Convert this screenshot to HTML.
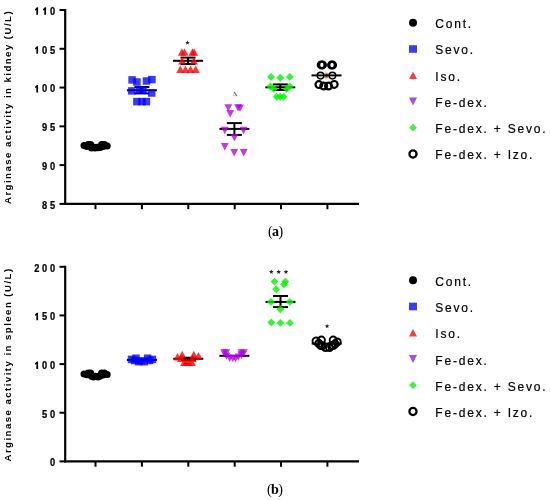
<!DOCTYPE html>
<html><head><meta charset="utf-8"><style>
html,body{margin:0;padding:0;background:#fff;width:550px;height:500px;overflow:hidden}
svg{display:block;will-change:transform}
.tk{font-family:"Liberation Sans",sans-serif;font-weight:bold;font-size:10.3px;fill:#000;stroke:#000;stroke-width:0.25px}
.yl{font-family:"Liberation Sans",sans-serif;font-weight:bold;font-size:9.6px;letter-spacing:1.47px;fill:#000}
.lg{font-family:"Liberation Sans",sans-serif;font-size:12px;letter-spacing:1.8px;fill:#000;stroke:#000;stroke-width:0.2px}
.cap{font-family:"Liberation Serif",serif;font-size:14px;letter-spacing:-0.6px;fill:#000}
</style></head><body>
<svg width="550" height="500" viewBox="0 0 550 500">
<rect width="550" height="500" fill="#fff"/>
<line x1="65.2" y1="9.0" x2="65.2" y2="204.9" stroke="#000" stroke-width="2.2"/>
<line x1="64.2" y1="203.9" x2="359" y2="203.9" stroke="#000" stroke-width="2.2"/>
<line x1="59.5" y1="10.0" x2="65.2" y2="10.0" stroke="#000" stroke-width="2"/>
<text class="tk" transform="translate(52.60,14.85) scale(0.9,1)" text-anchor="middle">0</text>
<polygon points="46.05,14.85 46.05,7.35 44.85,7.35 42.95,9.15 42.95,10.65 44.30,9.65 44.30,14.85" fill="#000"/>
<polygon points="38.10,14.85 38.10,7.35 36.90,7.35 35.00,9.15 35.00,10.65 36.35,9.65 36.35,14.85" fill="#000"/>
<line x1="59.5" y1="48.78" x2="65.2" y2="48.78" stroke="#000" stroke-width="2"/>
<text class="tk" transform="translate(52.60,53.63) scale(0.9,1)" text-anchor="middle">5</text>
<text class="tk" transform="translate(44.65,53.63) scale(0.9,1)" text-anchor="middle">0</text>
<polygon points="38.10,53.63 38.10,46.13 36.90,46.13 35.00,47.93 35.00,49.43 36.35,48.43 36.35,53.63" fill="#000"/>
<line x1="59.5" y1="87.56" x2="65.2" y2="87.56" stroke="#000" stroke-width="2"/>
<text class="tk" transform="translate(52.60,92.41) scale(0.9,1)" text-anchor="middle">0</text>
<text class="tk" transform="translate(44.65,92.41) scale(0.9,1)" text-anchor="middle">0</text>
<polygon points="38.10,92.41 38.10,84.91 36.90,84.91 35.00,86.71 35.00,88.21 36.35,87.21 36.35,92.41" fill="#000"/>
<line x1="59.5" y1="126.34" x2="65.2" y2="126.34" stroke="#000" stroke-width="2"/>
<text class="tk" transform="translate(52.60,131.19) scale(0.9,1)" text-anchor="middle">5</text>
<text class="tk" transform="translate(44.65,131.19) scale(0.9,1)" text-anchor="middle">9</text>
<line x1="59.5" y1="165.12" x2="65.2" y2="165.12" stroke="#000" stroke-width="2"/>
<text class="tk" transform="translate(52.60,169.97) scale(0.9,1)" text-anchor="middle">0</text>
<text class="tk" transform="translate(44.65,169.97) scale(0.9,1)" text-anchor="middle">9</text>
<line x1="59.5" y1="203.9" x2="65.2" y2="203.9" stroke="#000" stroke-width="2"/>
<text class="tk" transform="translate(52.60,208.75) scale(0.9,1)" text-anchor="middle">5</text>
<text class="tk" transform="translate(44.65,208.75) scale(0.9,1)" text-anchor="middle">8</text>
<line x1="95.5" y1="203.9" x2="95.5" y2="209.20000000000002" stroke="#000" stroke-width="2"/>
<line x1="141.9" y1="203.9" x2="141.9" y2="209.20000000000002" stroke="#000" stroke-width="2"/>
<line x1="188.3" y1="203.9" x2="188.3" y2="209.20000000000002" stroke="#000" stroke-width="2"/>
<line x1="234.7" y1="203.9" x2="234.7" y2="209.20000000000002" stroke="#000" stroke-width="2"/>
<line x1="281.0" y1="203.9" x2="281.0" y2="209.20000000000002" stroke="#000" stroke-width="2"/>
<line x1="327.4" y1="203.9" x2="327.4" y2="209.20000000000002" stroke="#000" stroke-width="2"/>
<text class="yl" transform="translate(11.4,204.0) rotate(-90)" x="0" y="0">Arginase activity in kidney (U/L)</text>
<circle cx="84.0" cy="145.6" r="3.5" fill="#000"/>
<circle cx="86.8" cy="146.4" r="3.5" fill="#000"/>
<circle cx="88.2" cy="144.6" r="3.5" fill="#000"/>
<circle cx="90.6" cy="144.6" r="3.5" fill="#000"/>
<circle cx="91.5" cy="147.9" r="3.5" fill="#000"/>
<circle cx="94.5" cy="147.2" r="3.5" fill="#000"/>
<circle cx="95.2" cy="147.9" r="3.5" fill="#000"/>
<circle cx="97.2" cy="147.2" r="3.5" fill="#000"/>
<circle cx="98.4" cy="147.8" r="3.5" fill="#000"/>
<circle cx="100.2" cy="147.5" r="3.5" fill="#000"/>
<circle cx="101.6" cy="144.6" r="3.5" fill="#000"/>
<circle cx="104.4" cy="144.6" r="3.5" fill="#000"/>
<circle cx="103.2" cy="146.6" r="3.5" fill="#000"/>
<circle cx="107.2" cy="146.0" r="3.5" fill="#000"/>
<line x1="126.9" y1="90.3" x2="156.9" y2="90.3" stroke="#000" stroke-width="2"/>
<line x1="141.9" y1="87.1" x2="141.9" y2="93.4" stroke="#000" stroke-width="2"/>
<line x1="134.4" y1="87.1" x2="149.4" y2="87.1" stroke="#000" stroke-width="2"/>
<line x1="134.4" y1="93.4" x2="149.4" y2="93.4" stroke="#000" stroke-width="2"/>
<rect x="128.35" y="76.15" width="7.5" height="7.5" fill="rgba(0,0,255,0.78)"/>
<rect x="133.15" y="78.25" width="7.5" height="7.5" fill="rgba(0,0,255,0.78)"/>
<rect x="142.75" y="77.25" width="7.5" height="7.5" fill="rgba(0,0,255,0.78)"/>
<rect x="148.15" y="75.85" width="7.5" height="7.5" fill="rgba(0,0,255,0.78)"/>
<rect x="128.05" y="87.15" width="7.5" height="7.5" fill="rgba(0,0,255,0.78)"/>
<rect x="135.95" y="86.45" width="7.5" height="7.5" fill="rgba(0,0,255,0.78)"/>
<rect x="139.25" y="86.45" width="7.5" height="7.5" fill="rgba(0,0,255,0.78)"/>
<rect x="147.95" y="89.25" width="7.5" height="7.5" fill="rgba(0,0,255,0.78)"/>
<rect x="133.15" y="97.85" width="7.5" height="7.5" fill="rgba(0,0,255,0.78)"/>
<rect x="138.25" y="97.85" width="7.5" height="7.5" fill="rgba(0,0,255,0.78)"/>
<rect x="142.65" y="97.85" width="7.5" height="7.5" fill="rgba(0,0,255,0.78)"/>
<line x1="173.0" y1="60.8" x2="203.0" y2="60.8" stroke="#000" stroke-width="2"/>
<line x1="188.0" y1="57.6" x2="188.0" y2="64.0" stroke="#000" stroke-width="2"/>
<line x1="180.5" y1="57.6" x2="195.5" y2="57.6" stroke="#000" stroke-width="2"/>
<line x1="180.5" y1="64.0" x2="195.5" y2="64.0" stroke="#000" stroke-width="2"/>
<polygon points="181.90,48.30 185.90,55.70 177.90,55.70" fill="rgba(255,0,0,0.8)"/>
<polygon points="184.50,48.30 188.50,55.70 180.50,55.70" fill="rgba(255,0,0,0.8)"/>
<polygon points="192.50,48.30 196.50,55.70 188.50,55.70" fill="rgba(255,0,0,0.8)"/>
<polygon points="194.10,48.30 198.10,55.70 190.10,55.70" fill="rgba(255,0,0,0.8)"/>
<polygon points="182.20,57.10 186.20,64.50 178.20,64.50" fill="rgba(255,0,0,0.8)"/>
<polygon points="193.80,57.10 197.80,64.50 189.80,64.50" fill="rgba(255,0,0,0.8)"/>
<polygon points="180.30,65.60 184.30,73.00 176.30,73.00" fill="rgba(255,0,0,0.8)"/>
<polygon points="185.40,65.60 189.40,73.00 181.40,73.00" fill="rgba(255,0,0,0.8)"/>
<polygon points="190.60,65.60 194.60,73.00 186.60,73.00" fill="rgba(255,0,0,0.8)"/>
<polygon points="195.70,65.60 199.70,73.00 191.70,73.00" fill="rgba(255,0,0,0.8)"/>
<polygon points="187.50,40.50 188.11,41.96 189.69,42.09 188.48,43.12 188.85,44.66 187.50,43.83 186.15,44.66 186.52,43.12 185.31,42.09 186.89,41.96" fill="#222"/>
<line x1="219.4" y1="128.9" x2="249.4" y2="128.9" stroke="#000" stroke-width="2"/>
<line x1="234.4" y1="123.1" x2="234.4" y2="134.9" stroke="#000" stroke-width="2"/>
<line x1="226.9" y1="123.1" x2="241.9" y2="123.1" stroke="#000" stroke-width="2"/>
<line x1="226.9" y1="134.9" x2="241.9" y2="134.9" stroke="#000" stroke-width="2"/>
<polygon points="224.40,104.20 232.20,104.20 228.30,111.60" fill="rgba(178,0,230,0.78)"/>
<polygon points="226.30,110.10 234.10,110.10 230.20,117.50" fill="rgba(178,0,230,0.78)"/>
<polygon points="234.10,104.20 241.90,104.20 238.00,111.60" fill="rgba(178,0,230,0.78)"/>
<polygon points="236.10,104.50 243.90,104.50 240.00,111.90" fill="rgba(178,0,230,0.78)"/>
<polygon points="220.90,126.80 228.70,126.80 224.80,134.20" fill="rgba(178,0,230,0.78)"/>
<polygon points="239.70,126.80 247.50,126.80 243.60,134.20" fill="rgba(178,0,230,0.78)"/>
<polygon points="230.50,134.00 238.30,134.00 234.40,141.40" fill="rgba(178,0,230,0.78)"/>
<polygon points="220.90,143.00 228.70,143.00 224.80,150.40" fill="rgba(178,0,230,0.78)"/>
<polygon points="230.30,149.10 238.10,149.10 234.20,156.50" fill="rgba(178,0,230,0.78)"/>
<polygon points="239.80,149.10 247.60,149.10 243.70,156.50" fill="rgba(178,0,230,0.78)"/>
<path d="M233.0,95.6 L234.3,92.2 L236.8,95.6 Z" fill="none" stroke="#a0a0a0" stroke-width="0.5"/>
<path d="M234.3,92.2 L236.8,95.7" stroke="#707070" stroke-width="1.1" stroke-linecap="round"/>
<line x1="265.3" y1="87.3" x2="295.3" y2="87.3" stroke="#000" stroke-width="2"/>
<line x1="280.3" y1="84.4" x2="280.3" y2="90.0" stroke="#000" stroke-width="2"/>
<line x1="272.8" y1="84.4" x2="287.8" y2="84.4" stroke="#000" stroke-width="2"/>
<line x1="272.8" y1="90.0" x2="287.8" y2="90.0" stroke="#000" stroke-width="2"/>
<polygon points="271.00,72.95 274.95,76.90 271.00,80.85 267.05,76.90" fill="rgba(0,245,0,0.82)"/>
<polygon points="280.30,73.75 284.25,77.70 280.30,81.65 276.35,77.70" fill="rgba(0,245,0,0.82)"/>
<polygon points="289.80,72.95 293.75,76.90 289.80,80.85 285.85,76.90" fill="rgba(0,245,0,0.82)"/>
<polygon points="270.50,82.45 274.45,86.40 270.50,90.35 266.55,86.40" fill="rgba(0,245,0,0.82)"/>
<polygon points="273.80,84.75 277.75,88.70 273.80,92.65 269.85,88.70" fill="rgba(0,245,0,0.82)"/>
<polygon points="289.80,82.45 293.75,86.40 289.80,90.35 285.85,86.40" fill="rgba(0,245,0,0.82)"/>
<polygon points="286.90,85.05 290.85,89.00 286.90,92.95 282.95,89.00" fill="rgba(0,245,0,0.82)"/>
<polygon points="276.70,92.85 280.65,96.80 276.70,100.75 272.75,96.80" fill="rgba(0,245,0,0.82)"/>
<polygon points="280.30,92.85 284.25,96.80 280.30,100.75 276.35,96.80" fill="rgba(0,245,0,0.82)"/>
<polygon points="283.60,92.85 287.55,96.80 283.60,100.75 279.65,96.80" fill="rgba(0,245,0,0.82)"/>
<rect x="324.6" y="71.5" width="3.8" height="8" fill="#fbdcae"/>
<line x1="311.5" y1="75.4" x2="341.5" y2="75.4" stroke="#000" stroke-width="2"/>
<line x1="326.5" y1="73.0" x2="326.5" y2="78.0" stroke="#000" stroke-width="2"/>
<line x1="319" y1="73.7" x2="334" y2="73.7" stroke="#c9c3b8" stroke-width="0.9"/>
<line x1="319" y1="77.2" x2="334" y2="77.2" stroke="#c9c3b8" stroke-width="0.9"/>
<circle cx="321.2" cy="64.9" r="3.4" fill="none" stroke="#000" stroke-width="2.2"/>
<circle cx="322.5" cy="64.9" r="3.4" fill="none" stroke="#000" stroke-width="2.2"/>
<circle cx="331.5" cy="65.1" r="3.4" fill="none" stroke="#000" stroke-width="2.2"/>
<circle cx="332.6" cy="65.1" r="3.4" fill="none" stroke="#000" stroke-width="2.2"/>
<circle cx="318.9" cy="84.6" r="3.4" fill="none" stroke="#000" stroke-width="2.2"/>
<circle cx="323.7" cy="86.0" r="3.4" fill="none" stroke="#000" stroke-width="2.2"/>
<circle cx="328.5" cy="86.0" r="3.4" fill="none" stroke="#000" stroke-width="2.2"/>
<circle cx="334.2" cy="84.4" r="3.4" fill="none" stroke="#000" stroke-width="2.2"/>
<circle cx="320.55" cy="75.6" r="3.3" fill="none" stroke="#000" stroke-width="1.5"/>
<circle cx="332.4" cy="75.6" r="3.3" fill="none" stroke="#000" stroke-width="1.5"/>
<text class="cap" x="275.2" y="235.7" text-anchor="middle">(<tspan font-weight="bold">a</tspan>)</text>
<line x1="65.2" y1="265.8" x2="65.2" y2="462.4" stroke="#000" stroke-width="2.2"/>
<line x1="64.2" y1="461.4" x2="359" y2="461.4" stroke="#000" stroke-width="2.2"/>
<line x1="59.5" y1="266.8" x2="65.2" y2="266.8" stroke="#000" stroke-width="2"/>
<text class="tk" transform="translate(52.60,271.65) scale(0.9,1)" text-anchor="middle">0</text>
<text class="tk" transform="translate(44.65,271.65) scale(0.9,1)" text-anchor="middle">0</text>
<text class="tk" transform="translate(36.70,271.65) scale(0.9,1)" text-anchor="middle">2</text>
<line x1="59.5" y1="315.45" x2="65.2" y2="315.45" stroke="#000" stroke-width="2"/>
<text class="tk" transform="translate(52.60,320.30) scale(0.9,1)" text-anchor="middle">0</text>
<text class="tk" transform="translate(44.65,320.30) scale(0.9,1)" text-anchor="middle">5</text>
<polygon points="38.10,320.30 38.10,312.80 36.90,312.80 35.00,314.60 35.00,316.10 36.35,315.10 36.35,320.30" fill="#000"/>
<line x1="59.5" y1="364.1" x2="65.2" y2="364.1" stroke="#000" stroke-width="2"/>
<text class="tk" transform="translate(52.60,368.95) scale(0.9,1)" text-anchor="middle">0</text>
<text class="tk" transform="translate(44.65,368.95) scale(0.9,1)" text-anchor="middle">0</text>
<polygon points="38.10,368.95 38.10,361.45 36.90,361.45 35.00,363.25 35.00,364.75 36.35,363.75 36.35,368.95" fill="#000"/>
<line x1="59.5" y1="412.75" x2="65.2" y2="412.75" stroke="#000" stroke-width="2"/>
<text class="tk" transform="translate(52.60,417.60) scale(0.9,1)" text-anchor="middle">0</text>
<text class="tk" transform="translate(44.65,417.60) scale(0.9,1)" text-anchor="middle">5</text>
<line x1="59.5" y1="461.4" x2="65.2" y2="461.4" stroke="#000" stroke-width="2"/>
<text class="tk" transform="translate(52.60,466.25) scale(0.9,1)" text-anchor="middle">0</text>
<line x1="95.5" y1="461.4" x2="95.5" y2="466.7" stroke="#000" stroke-width="2"/>
<line x1="141.9" y1="461.4" x2="141.9" y2="466.7" stroke="#000" stroke-width="2"/>
<line x1="188.3" y1="461.4" x2="188.3" y2="466.7" stroke="#000" stroke-width="2"/>
<line x1="234.7" y1="461.4" x2="234.7" y2="466.7" stroke="#000" stroke-width="2"/>
<line x1="281.0" y1="461.4" x2="281.0" y2="466.7" stroke="#000" stroke-width="2"/>
<line x1="327.4" y1="461.4" x2="327.4" y2="466.7" stroke="#000" stroke-width="2"/>
<text class="yl" transform="translate(11.4,461.5) rotate(-90)" x="0" y="0">Arginase activity in spleen (U/L)</text>
<circle cx="84.0" cy="374.0" r="3.5" fill="#000"/>
<circle cx="86.8" cy="374.8" r="3.5" fill="#000"/>
<circle cx="88.2" cy="373.0" r="3.5" fill="#000"/>
<circle cx="90.6" cy="373.0" r="3.5" fill="#000"/>
<circle cx="91.5" cy="376.3" r="3.5" fill="#000"/>
<circle cx="95.2" cy="376.3" r="3.5" fill="#000"/>
<circle cx="98.4" cy="376.20000000000005" r="3.5" fill="#000"/>
<circle cx="100.2" cy="375.9" r="3.5" fill="#000"/>
<circle cx="101.6" cy="373.0" r="3.5" fill="#000"/>
<circle cx="104.4" cy="373.0" r="3.5" fill="#000"/>
<circle cx="103.2" cy="375.0" r="3.5" fill="#000"/>
<circle cx="107.2" cy="374.4" r="3.5" fill="#000"/>
<circle cx="95.8" cy="376.4" r="3.5" fill="#000"/>
<circle cx="93.6" cy="376.9" r="3.5" fill="#000"/>
<circle cx="98.0" cy="376.9" r="3.5" fill="#000"/>
<line x1="126.9" y1="359.9" x2="156.9" y2="359.9" stroke="#000" stroke-width="2"/>
<rect x="127.75" y="355.65" width="7.5" height="7.5" fill="rgba(0,0,255,0.78)"/>
<rect x="132.25" y="354.45" width="7.5" height="7.5" fill="rgba(0,0,255,0.78)"/>
<rect x="143.85" y="354.45" width="7.5" height="7.5" fill="rgba(0,0,255,0.78)"/>
<rect x="148.65" y="355.65" width="7.5" height="7.5" fill="rgba(0,0,255,0.78)"/>
<rect x="137.65" y="357.05" width="7.5" height="7.5" fill="rgba(0,0,255,0.78)"/>
<rect x="134.75" y="357.95" width="7.5" height="7.5" fill="rgba(0,0,255,0.78)"/>
<rect x="140.55" y="357.95" width="7.5" height="7.5" fill="rgba(0,0,255,0.78)"/>
<rect x="130.75" y="356.75" width="7.5" height="7.5" fill="rgba(0,0,255,0.78)"/>
<rect x="145.75" y="356.75" width="7.5" height="7.5" fill="rgba(0,0,255,0.78)"/>
<line x1="173.3" y1="358.8" x2="203.3" y2="358.8" stroke="#000" stroke-width="2"/>
<line x1="188.3" y1="357.7" x2="188.3" y2="360.0" stroke="#000" stroke-width="2"/>
<line x1="180.8" y1="357.7" x2="195.8" y2="357.7" stroke="#000" stroke-width="2"/>
<line x1="180.8" y1="360.0" x2="195.8" y2="360.0" stroke="#000" stroke-width="2"/>
<polygon points="177.50,353.10 181.50,360.50 173.50,360.50" fill="rgba(255,0,0,0.8)"/>
<polygon points="182.20,350.80 186.20,358.20 178.20,358.20" fill="rgba(255,0,0,0.8)"/>
<polygon points="193.80,350.80 197.80,358.20 189.80,358.20" fill="rgba(255,0,0,0.8)"/>
<polygon points="198.50,352.00 202.50,359.40 194.50,359.40" fill="rgba(255,0,0,0.8)"/>
<polygon points="181.00,354.60 185.00,362.00 177.00,362.00" fill="rgba(255,0,0,0.8)"/>
<polygon points="192.50,354.60 196.50,362.00 188.50,362.00" fill="rgba(255,0,0,0.8)"/>
<polygon points="184.10,358.60 188.10,366.00 180.10,366.00" fill="rgba(255,0,0,0.8)"/>
<polygon points="186.40,358.40 190.40,365.80 182.40,365.80" fill="rgba(255,0,0,0.8)"/>
<polygon points="188.40,358.60 192.40,366.00 184.40,366.00" fill="rgba(255,0,0,0.8)"/>
<polygon points="191.90,358.60 195.90,366.00 187.90,366.00" fill="rgba(255,0,0,0.8)"/>
<line x1="219.4" y1="355.8" x2="249.4" y2="355.8" stroke="#000" stroke-width="2"/>
<polygon points="220.20,349.30 228.00,349.30 224.10,356.70" fill="rgba(178,0,230,0.78)"/>
<polygon points="222.40,349.30 230.20,349.30 226.30,356.70" fill="rgba(178,0,230,0.78)"/>
<polygon points="237.50,349.30 245.30,349.30 241.40,356.70" fill="rgba(178,0,230,0.78)"/>
<polygon points="240.00,349.30 247.80,349.30 243.90,356.70" fill="rgba(178,0,230,0.78)"/>
<polygon points="222.70,352.40 230.50,352.40 226.60,359.80" fill="rgba(178,0,230,0.78)"/>
<polygon points="225.80,354.60 233.60,354.60 229.70,362.00" fill="rgba(178,0,230,0.78)"/>
<polygon points="228.90,354.90 236.70,354.90 232.80,362.30" fill="rgba(178,0,230,0.78)"/>
<polygon points="231.60,354.90 239.40,354.90 235.50,362.30" fill="rgba(178,0,230,0.78)"/>
<polygon points="234.40,353.40 242.20,353.40 238.30,360.80" fill="rgba(178,0,230,0.78)"/>
<polygon points="237.50,351.50 245.30,351.50 241.40,358.90" fill="rgba(178,0,230,0.78)"/>
<line x1="265.5" y1="301.9" x2="295.5" y2="301.9" stroke="#000" stroke-width="2"/>
<line x1="280.5" y1="296.0" x2="280.5" y2="307.1" stroke="#000" stroke-width="2"/>
<line x1="273.0" y1="296.0" x2="288.0" y2="296.0" stroke="#000" stroke-width="2"/>
<line x1="273.0" y1="307.1" x2="288.0" y2="307.1" stroke="#000" stroke-width="2"/>
<polygon points="274.50,277.65 278.45,281.60 274.50,285.55 270.55,281.60" fill="rgba(0,245,0,0.82)"/>
<polygon points="285.30,277.65 289.25,281.60 285.30,285.55 281.35,281.60" fill="rgba(0,245,0,0.82)"/>
<polygon points="283.90,280.45 287.85,284.40 283.90,288.35 279.95,284.40" fill="rgba(0,245,0,0.82)"/>
<polygon points="276.20,285.35 280.15,289.30 276.20,293.25 272.25,289.30" fill="rgba(0,245,0,0.82)"/>
<polygon points="270.90,297.95 274.85,301.90 270.90,305.85 266.95,301.90" fill="rgba(0,245,0,0.82)"/>
<polygon points="289.90,297.95 293.85,301.90 289.90,305.85 285.95,301.90" fill="rgba(0,245,0,0.82)"/>
<polygon points="280.40,305.35 284.35,309.30 280.40,313.25 276.45,309.30" fill="rgba(0,245,0,0.82)"/>
<polygon points="271.30,318.45 275.25,322.40 271.30,326.35 267.35,322.40" fill="rgba(0,245,0,0.82)"/>
<polygon points="280.40,318.95 284.35,322.90 280.40,326.85 276.45,322.90" fill="rgba(0,245,0,0.82)"/>
<polygon points="289.90,318.95 293.85,322.90 289.90,326.85 285.95,322.90" fill="rgba(0,245,0,0.82)"/>
<polygon points="271.30,269.40 271.93,270.93 273.58,271.06 272.33,272.13 272.71,273.74 271.30,272.88 269.89,273.74 270.27,272.13 269.02,271.06 270.67,270.93" fill="#222"/>
<polygon points="278.70,269.40 279.33,270.93 280.98,271.06 279.73,272.13 280.11,273.74 278.70,272.88 277.29,273.74 277.67,272.13 276.42,271.06 278.07,270.93" fill="#222"/>
<polygon points="286.00,269.40 286.63,270.93 288.28,271.06 287.03,272.13 287.41,273.74 286.00,272.88 284.59,273.74 284.97,272.13 283.72,271.06 285.37,270.93" fill="#222"/>
<line x1="311.7" y1="343.6" x2="341.7" y2="343.6" stroke="#000" stroke-width="2"/>
<circle cx="316.1" cy="341.0" r="3.55" fill="none" stroke="#000" stroke-width="1.9"/>
<circle cx="321.4" cy="340.1" r="3.55" fill="none" stroke="#000" stroke-width="1.9"/>
<circle cx="333.2" cy="340.1" r="3.55" fill="none" stroke="#000" stroke-width="1.9"/>
<circle cx="337.2" cy="342.0" r="3.55" fill="none" stroke="#000" stroke-width="1.9"/>
<circle cx="318.8" cy="343.5" r="3.55" fill="none" stroke="#000" stroke-width="1.9"/>
<circle cx="335.0" cy="344.0" r="3.55" fill="none" stroke="#000" stroke-width="1.9"/>
<circle cx="320.8" cy="345.5" r="3.55" fill="none" stroke="#000" stroke-width="1.9"/>
<circle cx="325.5" cy="347.5" r="3.55" fill="none" stroke="#000" stroke-width="1.9"/>
<circle cx="329.5" cy="347.5" r="3.55" fill="none" stroke="#000" stroke-width="1.9"/>
<circle cx="333.3" cy="345.5" r="3.55" fill="none" stroke="#000" stroke-width="1.9"/>
<circle cx="322.5" cy="345.8" r="3.55" fill="none" stroke="#000" stroke-width="1.9"/>
<circle cx="331.5" cy="345.8" r="3.55" fill="none" stroke="#000" stroke-width="1.9"/>
<polygon points="327.10,323.80 327.71,325.26 329.29,325.39 328.08,326.42 328.45,327.96 327.10,327.14 325.75,327.96 326.12,326.42 324.91,325.39 326.49,325.26" fill="#222"/>
<text class="cap" x="274.7" y="493.9" text-anchor="middle">(<tspan font-weight="bold">b</tspan>)</text>
<circle cx="413" cy="22.8" r="4" fill="#000"/>
<rect x="409" y="45.2" width="8" height="7.6" fill="#3c3cff"/>
<polygon points="413,71.5 417,79.1 409,79.1" fill="#ff3c3c"/>
<polygon points="409,97.6 417,97.6 413,105.39999999999999" fill="#a848f0"/>
<polygon points="413,123.8 416.9,127.7 413,131.6 409.1,127.7" fill="#44ee44"/>
<circle cx="413" cy="154.0" r="3.6" fill="none" stroke="#000" stroke-width="2.3"/>
<text class="lg" x="435.3" y="28.20">Cont.</text>
<text class="lg" x="435.3" y="54.40">Sevo.</text>
<text class="lg" x="435.3" y="80.90">Iso.</text>
<text class="lg" x="435.3" y="107.00">Fe-dex.</text>
<text class="lg" x="435.3" y="133.40">Fe-dex. + Sevo.</text>
<text class="lg" x="435.3" y="159.40">Fe-dex. + Izo.</text>
<circle cx="413" cy="280.3" r="4" fill="#000"/>
<rect x="409" y="302.7" width="8" height="7.6" fill="#3c3cff"/>
<polygon points="413,329.0 417,336.6 409,336.6" fill="#ff3c3c"/>
<polygon points="409,355.1 417,355.1 413,362.90000000000003" fill="#a848f0"/>
<polygon points="413,381.3 416.9,385.2 413,389.09999999999997 409.1,385.2" fill="#44ee44"/>
<circle cx="413" cy="411.5" r="3.6" fill="none" stroke="#000" stroke-width="2.3"/>
<text class="lg" x="435.3" y="285.70">Cont.</text>
<text class="lg" x="435.3" y="311.90">Sevo.</text>
<text class="lg" x="435.3" y="338.40">Iso.</text>
<text class="lg" x="435.3" y="364.50">Fe-dex.</text>
<text class="lg" x="435.3" y="390.90">Fe-dex. + Sevo.</text>
<text class="lg" x="435.3" y="416.90">Fe-dex. + Izo.</text>
</svg>
</body></html>
